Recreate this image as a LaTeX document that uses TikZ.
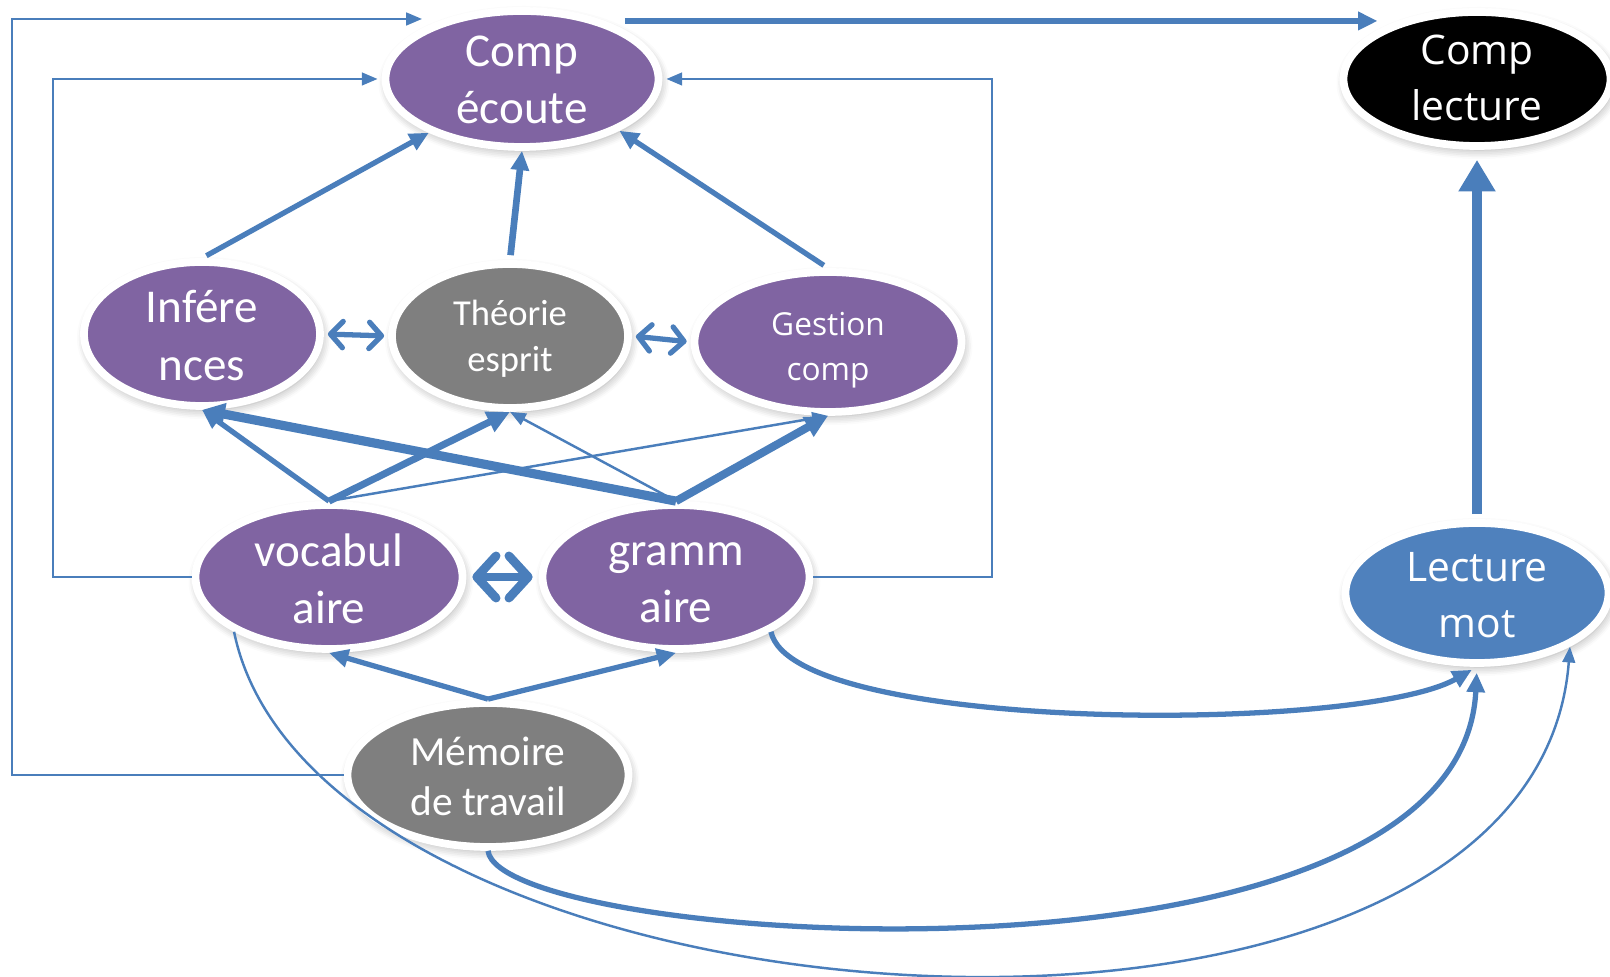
\documentclass[tikz,border=0pt]{standalone}
\usepackage{fontspec}
\setmainfont{Carlito}
\newfontfamily\opensans{Open Sans}
\usepackage{xcolor}
\definecolor{colorSkill}{HTML}{8064A2}
\definecolor{colorResource}{HTML}{7F7F7F}
\definecolor{colorWord}{HTML}{4F81BD}
\definecolor{colorLink}{HTML}{4A7EBB}
\usepackage{tikz}
\usetikzlibrary{arrows.meta, shapes.geometric, shadows.blur}
% struts that place the two lines inside a bubble
\newcommand{\topPad}[1]{\rule{0pt}{#1}}
\newcommand{\bottomPad}{\rule[-0.3\baselineskip]{0pt}{0.3\baselineskip}}
\tikzset{
  bubble/.style={ellipse, draw=white, line width=2.2pt, inner xsep=0pt, inner ysep=-6mm, text=white, align=center,
    blur shadow={shadow xshift=0.2mm, shadow yshift=-0.4mm, shadow blur radius=0.9mm, shadow blur steps=6, shadow opacity=35}},
  fontBig/.style={font=\fontsize{13.4}{16.4}\selectfont},
  fontMem/.style={font=\fontsize{11.8}{14}\selectfont},
  fontTheo/.style={font=\fontsize{10.4}{13}\selectfont},
  fontWide/.style={font=\opensans\fontsize{11.6}{16}\selectfont},
  fontGest/.style={font=\opensans\fontsize{9}{13}\selectfont},
  arrowFine/.style={draw=colorLink, line width=0.7pt, -{Triangle[length=4.5pt, width=3.6pt]}},
  arrowMid/.style={draw=colorLink, line width=1.5pt, -{Triangle[length=5.5pt, width=5pt]}},
  arrowBold/.style={draw=colorLink, line width=2.3pt, -{Triangle[length=6.5pt, width=6pt]}},
  arrowHeavy/.style={draw=colorLink, line width=3.1pt, -{Triangle[length=9pt, width=10pt]}},
  arrowBoth/.style={draw=colorLink, line width=1.5pt, {Straight Barb[length=3.5pt, width=7.5pt, round]}-{Straight Barb[length=3.5pt, width=7.5pt, round]}},
  arrowBothBold/.style={draw=colorLink, line width=2.5pt, {Straight Barb[length=5.5pt, width=12pt, round]}-{Straight Barb[length=5.5pt, width=12pt, round]}},
}

\begin{document}
\begin{tikzpicture}[x=1cm, y=1cm]
\useasboundingbox (0,0) rectangle (16.1,-9.77);

% oral side
\node[bubble, fill=colorSkill, fontBig, minimum width=2.73cm, minimum height=1.36cm] (ecoute) at (5.22,-0.79) {\topPad{14pt}Comp\\écoute\bottomPad};
\node[bubble, fill=colorSkill, fontBig, minimum width=2.36cm, minimum height=1.44cm] (infer) at (2.02,-3.34) {\topPad{14.8pt}Infére\\nces\bottomPad};
\node[bubble, fill=colorResource, fontTheo, minimum width=2.36cm, minimum height=1.44cm] (theorie) at (5.10,-3.36) {\topPad{11.2pt}Théorie\\esprit\bottomPad};
\node[bubble, fill=colorSkill, fontGest, minimum width=2.67cm, minimum height=1.40cm] (gestion) at (8.28,-3.42) {\topPad{13pt}Gestion\\comp\bottomPad};
\node[bubble, fill=colorSkill, fontBig, minimum width=2.67cm, minimum height=1.44cm] (vocab) at (3.29,-5.77) {\topPad{15.2pt}vocabul\\aire\bottomPad};
\node[bubble, fill=colorSkill, fontBig, minimum width=2.67cm, minimum height=1.44cm] (gramm) at (6.76,-5.77) {\topPad{14.6pt}gramm\\aire\bottomPad};
\node[bubble, fill=colorResource, fontMem, minimum width=2.81cm, minimum height=1.44cm] (memoire) at (4.88,-7.75) {\topPad{13pt}Mémoire\\de travail\bottomPad};

% written side
\node[bubble, fill=black, fontWide, minimum width=2.67cm, minimum height=1.34cm] (lecture) at (14.77,-0.79) {\topPad{12.4pt}Comp\\lecture\bottomPad};
\node[bubble, fill=colorWord, fontWide, minimum width=2.63cm, minimum height=1.40cm] (mot) at (14.77,-5.93) {\topPad{14.4pt}Lecture\\mot\bottomPad};

% into Comp écoute
\draw[arrowMid, shorten <=0.5mm] (infer.north) -- (ecoute.210);
\draw[arrowMid, line width=1.9pt, shorten <=0.5mm] (theorie.north) -- (ecoute.south);
\draw[arrowMid, shorten <=0.5mm] (gestion.north) -- (ecoute.-28);
\draw[arrowMid, line width=1.8pt, shorten <=2mm, shorten >=0.8mm] (ecoute.35) -- (ecoute.35 -| lecture.150);
\draw[arrowHeavy, shorten <=0.5mm, shorten >=1mm] (mot.north) -- (lecture.south);

% links inside the middle row
\draw[arrowBoth, shorten <=0.4mm, shorten >=0.4mm] (infer.east) -- (theorie.west);
\draw[arrowBoth, shorten <=0.4mm, shorten >=0.4mm] (theorie.east) -- (gestion.west);
\draw[arrowBothBold, shorten <=0.6mm, shorten >=0.6mm] (vocab.east) -- (gramm.west);

% vocabulaire and grammaire feed the middle row
\draw[arrowMid] (vocab.north) -- (infer.south);
\draw[arrowBold, line width=2pt] (vocab.north) -- (theorie.south);
\draw[arrowFine] (vocab.north) -- (gestion.south);
\draw[arrowBold, line width=2.6pt] (gramm.north) -- (infer.south);
\draw[arrowFine] (gramm.north) -- (theorie.south);
\draw[arrowBold] (gramm.north) -- (gestion.south);
\draw[arrowMid] (memoire.north) -- (vocab.south);
\draw[arrowMid] (memoire.north) -- (gramm.south);

% outer rails back to Comp écoute
\coordinate (railA) at (0.12,-0.19);
\coordinate (tipA) at (4.22,-0.19);
\coordinate (railB) at (0.53,0);
\coordinate (railC) at (9.92,0);
\draw[arrowFine] (memoire.west) -| (railA) -- (tipA);
\draw[arrowFine, shorten >=0.4mm] (vocab.west) -| (railB |- ecoute.west) -- (ecoute.west);
\draw[arrowFine, shorten >=0.4mm] (gramm.east) -| (railC |- ecoute.east) -- (ecoute.east);

% long curves to Lecture mot
\draw[arrowMid, shorten >=0.6mm] (gramm.-30) .. controls +(0.22,-1.01) and +(-1.17,-0.67) .. (mot.south);
\draw[arrowMid, shorten >=0.6mm] (memoire.south) .. controls +(0.12,-0.95) and +(-0.17,-3.45) .. (mot.south);
\draw[arrowFine] (vocab.210) .. controls +(0.84,-4.1) and +(-0.37,-4.82) .. (mot.-30);
\end{tikzpicture}
\end{document}
